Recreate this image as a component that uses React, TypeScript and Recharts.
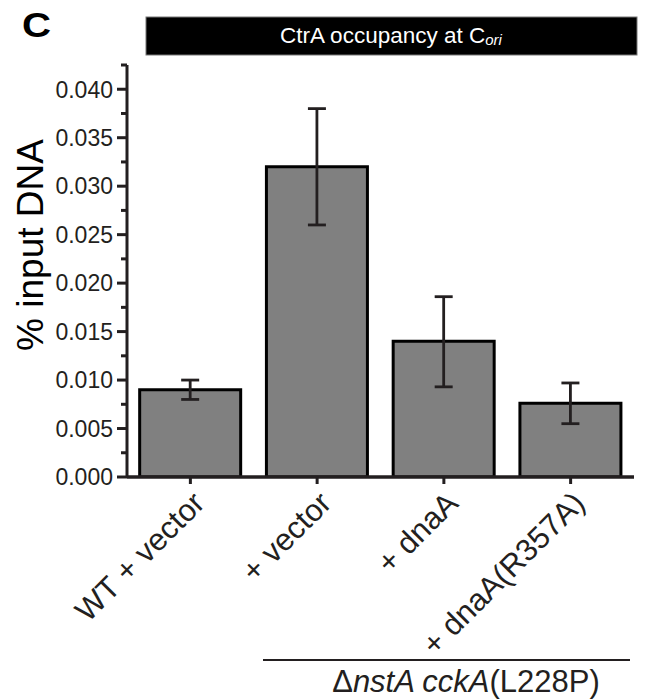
import React from "react";
import { BarChart, Bar, XAxis, YAxis, ErrorBar } from "recharts";

const categories = ["WT + vector", "+ vector", "+ dnaA", "+ dnaA(R357A)"];
const occupancy = [0.009, 0.032, 0.014, 0.0076];
const errLow = [0.001, 0.006, 0.0047, 0.0021];
const errHigh = [0.001, 0.006, 0.0046, 0.0021];
const yMajorTicks = [0, 0.005, 0.01, 0.015, 0.02, 0.025, 0.03, 0.035, 0.04];
const yMinorTicks = [0.0025, 0.0075, 0.0125, 0.0175, 0.0225, 0.0275, 0.0325, 0.0375, 0.0425];
const yTickLabels = ["0.000", "0.005", "0.010", "0.015", "0.020", "0.025", "0.030", "0.035", "0.040"];

const data = categories.map((name, i) => ({
  name,
  value: occupancy[i],
  err: [errLow[i], errHigh[i]],
}));

const FONT = "'Liberation Sans', Arial, Helvetica, sans-serif";
const INK = "#231f20";

function XTick(props: any) {
  const { x, y, payload } = props;
  return (
    <g transform={`translate(${x + 16},${y + 19})`}>
      <text transform="rotate(-45)" textAnchor="end" fontSize={31} fontFamily={FONT} fill={INK}>
        {String(payload.value)}
      </text>
    </g>
  );
}

const minorSet = new Set(yMinorTicks);

function YTick(props: any) {
  const { x, y, payload } = props;
  const v = payload.value;
  if (minorSet.has(v)) {
    return <line x1={x - 6} x2={x} y1={y} y2={y} stroke={INK} strokeWidth={3} />;
  }
  const idx = yMajorTicks.indexOf(v);
  return (
    <g>
      <line x1={x - 10} x2={x} y1={y} y2={y} stroke={INK} strokeWidth={3} />
      <text x={x - 14} y={y} dy="0.36em" textAnchor="end" fontSize={23} fontFamily={FONT} fill={INK}>
        {yTickLabels[idx]}
      </text>
    </g>
  );
}

const allYTicks = [...yMajorTicks, ...yMinorTicks].sort((a, b) => a - b);

export default function App() {
  return (
    <div style={{ position: "absolute", left: 0, top: 0, width: 646, height: 700, background: "#fff" }}>
      <BarChart
        width={646}
        height={700}
        data={data}
        margin={{ top: 65, right: 12, left: 0, bottom: 0 }}
        barCategoryGap="10%"
      >
        <XAxis
          dataKey="name"
          height={223}
          interval={0}
          axisLine={{ stroke: INK, strokeWidth: 3.5 }}
          tickLine={{ stroke: INK, strokeWidth: 3 }}
          tickSize={7}
          tick={<XTick />}
        />
        <YAxis
          width={127}
          domain={[0, 0.0425]}
          ticks={allYTicks}
          interval={0}
          allowDataOverflow
          axisLine={{ stroke: INK, strokeWidth: 3 }}
          tickLine={false}
          tickSize={0}
          tickMargin={0}
          tick={<YTick />}
        />
        <Bar dataKey="value" fill="#808080" stroke="#000" strokeWidth={3} isAnimationActive={false}>
          <ErrorBar dataKey="err" width={9} stroke={INK} strokeWidth={2.8} direction="y" />
        </Bar>
      </BarChart>
      <svg width={646} height={700} style={{ position: "absolute", left: 0, top: 0, pointerEvents: "none" }}>
        <text transform="translate(22,37) scale(1.15,1)" fontSize={35} fontWeight="bold" fontFamily={FONT} fill="#000">C</text>
        <rect x={146} y={17} width={491} height={38} fill="#000" stroke="#777" strokeWidth={1} />
        <text x={391} y={43} textAnchor="middle" fontSize={22.5} fontFamily={FONT} fill="#fff">
          CtrA occupancy at C<tspan fontSize={15} fontStyle="italic" dy={2}>ori</tspan>
        </text>
        <text
          transform="translate(43,245) rotate(-90)"
          textAnchor="middle"
          fontSize={37}
          fontFamily={FONT}
          fill="#000"
        >
          % input DNA
        </text>
        <line x1={263} x2={630} y1={660} y2={660} stroke={INK} strokeWidth={2} />
        <text x={466} y={692} textAnchor="middle" fontSize={31} fontFamily={FONT} fill={INK}>
          Δ<tspan fontStyle="italic">nstA cckA</tspan>(L228P)
        </text>
      </svg>
    </div>
  );
}
